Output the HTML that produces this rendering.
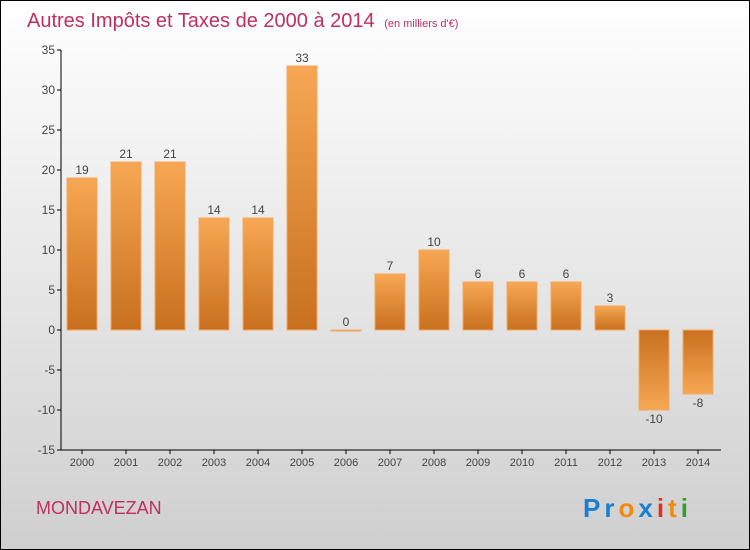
<!DOCTYPE html>
<html><head><meta charset="utf-8"><style>
body{margin:0}
#c{width:750px;height:550px;position:relative;overflow:hidden;font-family:"Liberation Sans",sans-serif}
</style></head><body>
<div id="c">
<svg id="s" width="750" height="550" xmlns="http://www.w3.org/2000/svg">
<defs>
<linearGradient id="bg" x1="0" y1="0" x2="0" y2="1"><stop offset="0" stop-color="#ffffff"/><stop offset="1" stop-color="#cfcfcf"/></linearGradient>
<linearGradient id="gp" x1="0" y1="0" x2="0" y2="1"><stop offset="0" stop-color="#f7a753"/><stop offset="1" stop-color="#c8701f"/></linearGradient>
<linearGradient id="gn" x1="0" y1="0" x2="0" y2="1"><stop offset="0" stop-color="#c8701f"/><stop offset="1" stop-color="#f7a753"/></linearGradient>
</defs>
<rect x="0.5" y="0.5" width="749" height="549" fill="url(#bg)" stroke="#000"/>
<text x="27" y="27" font-size="20" fill="#c0305e">Autres Impôts et Taxes de 2000 à 2014 <tspan font-size="11" dx="4">(en milliers d'€)</tspan></text>
<text x="36" y="514" font-size="18" fill="#c0305e">MONDAVEZAN</text>
<text x="583" y="517" font-size="26" font-weight="bold" letter-spacing="4"><tspan fill="#1a7fd0">Pr</tspan><tspan fill="#f28a10">o</tspan><tspan fill="#1a7fd0">x</tspan><tspan fill="#e03020">i</tspan><tspan fill="#f28a10">t</tspan><tspan fill="#30a030">i</tspan></text>
<g id="axes"></g><g id="bars"></g>
</svg>
</div>
<script>
const years=["2000","2001","2002","2003","2004","2005","2006","2007","2008","2009","2010","2011","2012","2013","2014"];
const values=[19,21,21,14,14,33,0,7,10,6,6,6,3,-10,-8];
const yTicks=[35,30,25,20,15,10,5,0,-5,-10,-15];
const NS="http://www.w3.org/2000/svg";
const y=v=>330-v*8;
const x=i=>82+i*44;
function mk(t,a,p){const e=document.createElementNS(NS,t);for(const k in a)e.setAttribute(k,a[k]);p.appendChild(e);return e;}
const ax=document.getElementById('axes'),bs=document.getElementById('bars');
const yl=mk('line',{x1:61,y1:y(35),x2:61,y2:y(-15),stroke:'#000'},ax);


const xl=mk('line',{x1:61,y1:450,x2:721,y2:450,stroke:'#000'},ax);


yTicks.forEach(v=>{
 mk('line',{x1:57,y1:y(v),x2:61,y2:y(v),stroke:'#000'},ax);
 const t=mk('text',{x:55,y:y(v)+4,'text-anchor':'end','font-size':12,fill:'#444'},ax);t.textContent=v;
 
 
});
years.forEach((yr,i)=>{
 mk('line',{x1:x(i),y1:450,x2:x(i),y2:454,stroke:'#000'},ax);
 const t=mk('text',{x:x(i),y:466,'text-anchor':'middle','font-size':11,fill:'#444'},ax);t.textContent=yr;
 
 
 const v=values[i];
 const top=Math.min(y(v),y(0)),h=Math.max(Math.abs(y(v)-y(0)),1);
 const r=mk('rect',{x:x(i)-15,y:top,width:30,height:h,fill:v>=0?'url(#gp)':'url(#gn)',stroke:'#f5a860','stroke-width':1},bs);
 
 
 const l=mk('text',{x:x(i),y:v>=0?y(v)-4:y(v)+13,'text-anchor':'middle','font-size':12,fill:'#444'},bs);l.textContent=v;
 
 
});
</script>
</body></html>
